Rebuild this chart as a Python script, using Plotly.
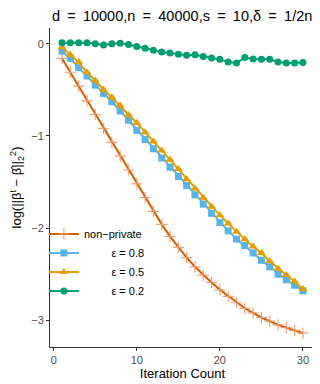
import plotly.graph_objs as go

iterations = list(range(1, 31))

non_private = [-0.16, -0.31, -0.46, -0.62, -0.77, -0.92, -1.07, -1.22, -1.37, -1.52,
               -1.67, -1.82, -1.96, -2.09, -2.21, -2.32, -2.42, -2.51, -2.59, -2.67,
               -2.74, -2.81, -2.87, -2.92, -2.97, -3.01, -3.05, -3.08, -3.11, -3.14]
eps_08 = [-0.08, -0.16, -0.26, -0.35, -0.45, -0.54, -0.63, -0.73, -0.83, -0.94,
          -1.04, -1.14, -1.24, -1.34, -1.44, -1.54, -1.64, -1.74, -1.84, -1.94,
          -2.03, -2.12, -2.19, -2.27, -2.35, -2.42, -2.50, -2.56, -2.62, -2.68]
eps_05 = [-0.04, -0.12, -0.20, -0.31, -0.40, -0.50, -0.58, -0.67, -0.77, -0.86,
          -0.96, -1.06, -1.16, -1.26, -1.36, -1.47, -1.57, -1.67, -1.77, -1.86,
          -1.95, -2.04, -2.12, -2.20, -2.27, -2.36, -2.44, -2.51, -2.58, -2.66]
eps_02 = [0.01, 0.01, 0.01, 0.01, 0.0, -0.015, 0.0, 0.005, -0.01, -0.03,
          -0.05, -0.07, -0.09, -0.10, -0.115, -0.125, -0.12, -0.14, -0.155, -0.17,
          -0.20, -0.21, -0.15, -0.165, -0.17, -0.17, -0.20, -0.21, -0.21, -0.205]

nb = '\u00a0'
eq = '\u2002=\u2002'
trace0 = go.Scatter(x=iterations, y=non_private, name='non\u2212private', mode='lines+markers',
                    line=dict(color='#D55E00', width=2),
                    marker=dict(symbol='cross-thin', size=8, line=dict(color='rgba(240,150,100,0.9)', width=1.2)))
trace1 = go.Scatter(x=iterations, y=eps_08, name=nb * 9 + '\u03b5 = 0.8', mode='lines+markers',
                    line=dict(color='#56B4E9', width=2),
                    marker=dict(symbol='square', size=7, color='#56B4E9'))
trace2 = go.Scatter(x=iterations, y=eps_05, name=nb * 9 + '\u03b5 = 0.5', mode='lines+markers',
                    line=dict(color='#E69F00', width=2),
                    marker=dict(symbol='triangle-up', size=8, color='#E69F00'))
trace3 = go.Scatter(x=iterations, y=eps_02, name=nb * 9 + '\u03b5 = 0.2', mode='lines+markers',
                    line=dict(color='#009E73', width=2),
                    marker=dict(symbol='circle', size=7, color='#009E73'))

fig = go.Figure([trace0, trace1, trace2, trace3])
# page body has an 8px margin, so the figure is a bit smaller and shifted
fig.update_layout(
    width=312, height=376,
    margin=dict(l=42, r=5, t=20, b=37, autoexpand=False),
    plot_bgcolor='white', paper_bgcolor='white',
    font=dict(family='Liberation Sans, Arial', size=11, color='black'),
    title=dict(text='d' + eq + '10000,n' + eq + '40000,s' + eq + '10,\u03b4' + eq + '1/2n',
               x=0.558, xanchor='center', y=0.98, yanchor='middle', font=dict(size=14.5)),
    legend=dict(x=-0.023, y=0.40, xanchor='left', yanchor='top', bgcolor='rgba(255,255,255,0)',
                font=dict(size=11), tracegroupgap=0, itemwidth=30),
    showlegend=True,
)
fig.update_xaxes(range=[-0.45, 31.45], tickvals=[0, 10, 20, 30], showgrid=False, zeroline=False,
                 automargin=False,
                 showline=True, linecolor='#333333', linewidth=1, ticks='outside', ticklen=3,
                 tickcolor='#333333', tickfont=dict(size=11, color='#4D4D4D'),
                 title=dict(text='Iteration Count', font=dict(size=13), standoff=2))
fig.update_yaxes(range=[-3.29, 0.17], tickvals=[0, -1, -2, -3], showgrid=False, zeroline=False,
                 automargin=False,
                 showline=True, linecolor='#333333', linewidth=1, ticks='outside', ticklen=3,
                 tickcolor='#333333', tickfont=dict(size=11, color='#4D4D4D'),
                 title=dict(text='log(||\u03b2<sup>t</sup> \u2212 \u03b2\u0302||<sub>2</sub><sup>2</sup>)',
                            font=dict(size=13), standoff=10))
fig.write_html("out.html")
